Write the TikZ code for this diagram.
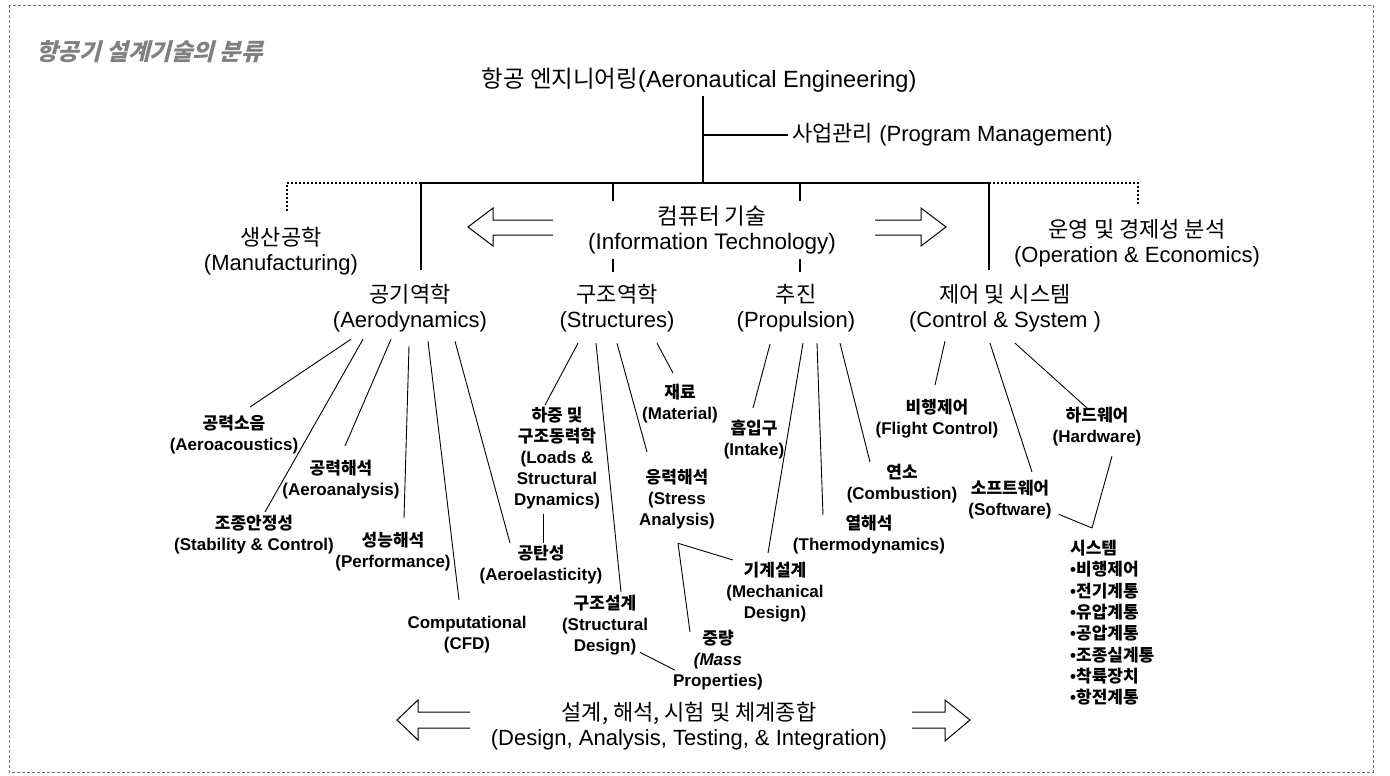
\documentclass[tikz,border=0pt]{standalone}
\usepackage{fontspec}
\setmainfont{Liberation Sans}
\newfontfamily\kr{Noto Sans CJK KR}
\newfontfamily\krit{Noto Sans CJK KR}[FakeSlant=0.25]
\newcommand\K[1]{{\kr #1}}
\begin{document}
\begin{tikzpicture}[x=1pt,y=-1pt,
  head/.style={align=center,inner sep=0pt,font=\fontsize{22}{25}\selectfont},
  leaf/.style={align=center,inner sep=0pt,font=\bfseries\fontsize{17}{21}\selectfont},
  trunk/.style={line width=2.4pt},
  dotbus/.style={line width=2pt,dotted},
  conn/.style={line width=0.9pt},
  blockarrow/.style={line width=1pt,line join=miter}]
\useasboundingbox (0,0) rectangle (1390,776);
\draw[black!55,line width=0.8pt,dash pattern=on 3pt off 2pt] (9,5) rectangle (1373,772);

% title
\node[anchor=west,inner sep=0pt,text=black!50,font=\krit\bfseries\fontsize{23.5}{24}\selectfont] (title) at (36,52) {항공기 설계기술의 분류};

% top levels
\node[head,anchor=south,font=\fontsize{23.5}{25}\selectfont] (top) at (699,93) {\K{항공 엔지니어링}(Aeronautical Engineering)};
\node[head,anchor=west] (pm) at (792,135) {\K{사업관리} (Program Management)};
\coordinate (pmj) at (703,135);
\coordinate (bL) at (421,183);
\coordinate (bS) at (613,183);
\coordinate (bT) at (703,183);
\coordinate (bP) at (800,183);
\coordinate (bR) at (989,183);
\coordinate (dL) at (287,183);
\coordinate (dR) at (1138,183);

\node[head,anchor=north] (aero) at (410,284) {\K{공기역학}\\(Aerodynamics)};
\node[head,anchor=north] (struct) at (617,284) {\K{구조역학}\\(Structures)};
\node[head,anchor=north] (prop) at (796,284) {\K{추진}\\(Propulsion)};
\node[head,anchor=north] (ctrl) at (1005,284) {\K{제어 및 시스템}\\(Control \& System )};
\node[head,anchor=north] (manuf) at (281,227) {\K{생산공학}\\(Manufacturing)};
\node[head,anchor=north] (oper) at (1137,219) {\K{운영 및 경제성 분석}\\(Operation \& Economics)};

\draw[trunk] ([shift={(4,3)}]top.south) -- (bT);
\draw[trunk] (pmj) -- ([shift={(-4,0)}]pm.west);
\draw[trunk] (bL) -- (bR);
\draw[trunk] (bL) -- ([shift={(11,-14)}]aero.north);
\draw[trunk] (bR) -- ([shift={(-16,-14)}]ctrl.north);
\draw[trunk] (bS) -- ([shift={(-4,-12)}]struct.north);
\draw[trunk] (bP) -- ([shift={(4,-12)}]prop.north);
\draw[dotbus] (bL) -- (dL) -- ([shift={(6,-15)}]manuf.north);
\draw[dotbus] (bR) -- (dR) -- ([shift={(1,-14)}]oper.north);

\node[head,anchor=north,fill=white,inner xsep=2pt,inner ysep=5pt,font=\fontsize{22.5}{25}\selectfont] (it) at (712,201) {\K{컴퓨터 기술}\\(Information Technology)};

% block arrows
\draw[blockarrow] (553,220) -- (493,220) -- (493,208) -- (468,227) -- (493,246) -- (493,235) -- (553,235);
\draw[blockarrow] (875,220) -- (921,220) -- (921,208) -- (946,227) -- (921,246) -- (921,235) -- (875,235);
\draw[blockarrow] (470,712) -- (418,712) -- (418,700) -- (397,720) -- (418,740) -- (418,728) -- (470,728);
\draw[blockarrow] (912,712) -- (945,712) -- (945,700) -- (970,720) -- (945,741) -- (945,728) -- (912,728);

% leaves
\node[leaf,anchor=north] (ac) at (234,415) {\K{공력소음}\\(Aeroacoustics)};
\node[leaf,anchor=north] (aa) at (341,460) {\K{공력해석}\\(Aeroanalysis)};
\node[leaf,anchor=north] (sc) at (254,515) {\K{조종안정성}\\(Stability \& Control)};
\node[leaf,anchor=north] (pf) at (393,532) {\K{성능해석}\\(Performance)};
\node[leaf,anchor=north] (cfd) at (467,616) {Computational\\(CFD)};
\node[leaf,anchor=north] (ae) at (541,545) {\K{공탄성}\\(Aeroelasticity)};
\node[leaf,anchor=north] (loads) at (557,407) {\K{하중 및}\\\K{구조동력학}\\(Loads \&\\Structural\\Dynamics)};
\node[leaf,anchor=north] (mat) at (680,384) {\K{재료}\\(Material)};
\node[leaf,anchor=north] (sa) at (677,469) {\K{응력해석}\\(Stress\\Analysis)};
\node[leaf,anchor=north] (sd) at (605,595) {\K{구조설계}\\(Structural\\Design)};
\node[leaf,anchor=north] (mass) at (718,630) {\K{중량}\\{\itshape (Mass}\\Properties)};
\node[leaf,anchor=north] (intake) at (754,420) {\K{흡입구}\\(Intake)};
\node[leaf,anchor=north] (comb) at (902,464) {\K{연소}\\(Combustion)};
\node[leaf,anchor=north] (thermo) at (869,515) {\K{열해석}\\(Thermodynamics)};
\node[leaf,anchor=north] (mech) at (775,562) {\K{기계설계}\\(Mechanical\\Design)};
\node[leaf,anchor=north] (fc) at (937,399) {\K{비행제어}\\(Flight Control)};
\node[leaf,anchor=north] (hw) at (1097,407) {\K{하드웨어}\\(Hardware)};
\node[leaf,anchor=north] (sw) at (1010,480) {\K{소프트웨어}\\(Software)};
\node[anchor=north west,align=left,inner sep=0pt,font=\bfseries\fontsize{17}{21.3}\selectfont] (sys) at (1070,540)
  {\K{시스템}\\•\K{비행제어}\\•\K{전기계통}\\•\K{유압계통}\\•\K{공압계통}\\•\K{조종실계통}\\•\K{착륙장치}\\•\K{항전계통}};

\node[head,anchor=north] (dati) at (689,702) {\K{설계, 해석, 시험 및 체계종합}\\(Design, Analysis, Testing, \& Integration)};

% aerodynamics connectors
\draw[conn] ([shift={(-59,7)}]aero.south) -- ([shift={(16,-8)}]ac.north);
\draw[conn] ([shift={(-47,7)}]aero.south) -- ([shift={(11,-3)}]sc.north);
\draw[conn] ([shift={(-19,7)}]aero.south) -- ([shift={(4,-14)}]aa.north);
\draw[conn] ([shift={(-1,14)}]aero.south) -- ([shift={(11,-14)}]pf.north);
\draw[conn] ([shift={(18,9)}]aero.south) -- ([shift={(-8,-16)}]cfd.north);
\draw[conn] ([shift={(45,9)}]aero.south) -- ([shift={(-31,-2)}]ae.north);
% structures connectors
\draw[conn] ([shift={(-39,11)}]struct.south) -- ([shift={(-12,-2)}]loads.north);
\draw[conn] ([shift={(-21,11)}]struct.south) -- ([shift={(16,-3)}]sd.north);
\draw[conn] ([shift={(0,11)}]struct.south) -- ([shift={(-30,-17)}]sa.north);
\draw[conn] ([shift={(40,11)}]struct.south) -- ([shift={(-7,-11)}]mat.north);
\draw[conn] ([shift={(-14,5)}]loads.south) -- ([shift={(2,-2)}]ae.north);
\draw[conn] ([shift={(1,14)}]sa.south) -- ([shift={(-42,-2)}]mech.north);
\draw[conn] ([shift={(1,14)}]sa.south) -- ([shift={(-28,2)}]mass.north);
\draw[conn] ([shift={(35,-3)}]sd.south) -- ([shift={(2,10)}]mass.west);
% propulsion connectors
\draw[conn] ([shift={(-26,12)}]prop.south) -- ([shift={(-1,-12)}]intake.north);
\draw[conn] ([shift={(7,11)}]prop.south) -- ([shift={(-7,-9)}]mech.north);
\draw[conn] ([shift={(21,11)}]prop.south) -- ([shift={(-46,0)}]thermo.north);
\draw[conn] ([shift={(44,11)}]prop.south) -- ([shift={(-32,-2)}]comb.north);
% control connectors
\draw[conn] ([shift={(-60,9)}]ctrl.south) -- ([shift={(-2,-14)}]fc.north);
\draw[conn] ([shift={(-15,11)}]ctrl.south) -- ([shift={(22,-8)}]sw.north);
\draw[conn] ([shift={(10,11)}]ctrl.south) -- ([shift={(-10,1)}]hw.north);
\draw[conn] ([shift={(7,-5)}]sw.south east) -- ([shift={(22,-12)}]sys.north west);
\draw[conn] ([shift={(15,10)}]hw.south) -- ([shift={(22,-12)}]sys.north west);
\end{tikzpicture}
\end{document}
